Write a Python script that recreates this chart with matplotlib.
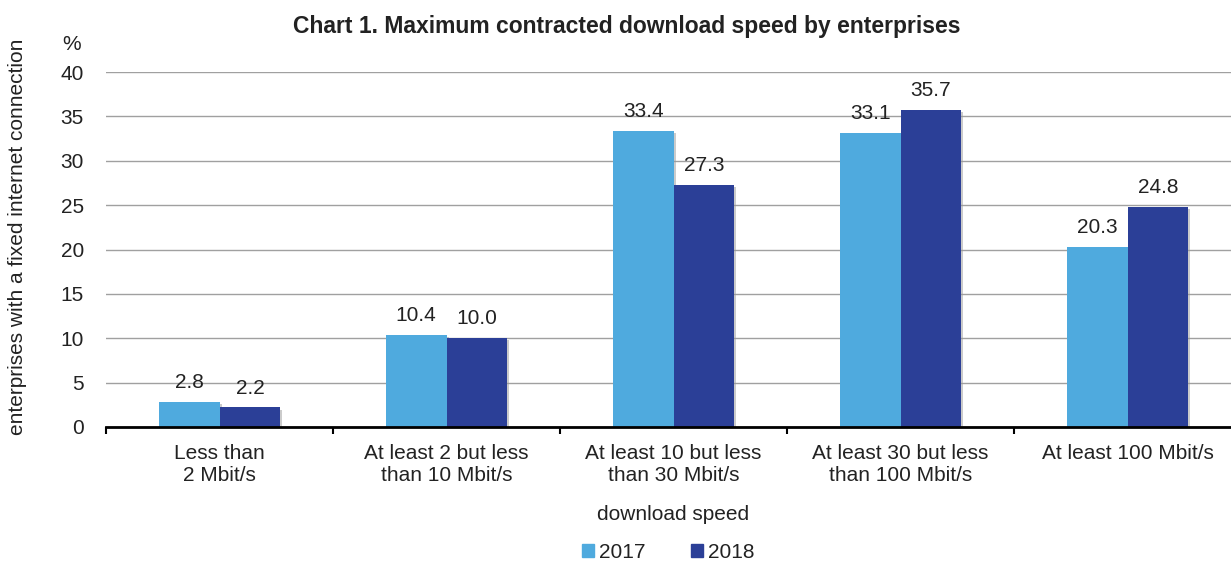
import matplotlib.pyplot as plt
import matplotlib.patheffects as pe
import numpy as np

plt.rcParams['font.family'] = ['Liberation Sans', 'DejaVu Sans']

categories = ['Less than\n2 Mbit/s', 'At least 2 but less\nthan 10 Mbit/s',
              'At least 10 but less\nthan 30 Mbit/s', 'At least 30 but less\nthan 100 Mbit/s',
              'At least 100 Mbit/s']
vals_2017 = [2.8, 10.4, 33.4, 33.1, 20.3]
vals_2018 = [2.2, 10.0, 27.3, 35.7, 24.8]

c17 = '#4faade'
c18 = '#2b3f97'
txt = '#222222'

fig = plt.figure(figsize=(12.31, 5.64), dpi=100)
ax = fig.add_axes([106 / 1231, 1 - 427 / 564, 1135 / 1231, 355 / 564])

x = np.arange(len(categories))
w = 0.268
shadow = [pe.SimplePatchShadow(offset=(1.5, -1.5), shadow_rgbFace='#999999', alpha=0.5), pe.Normal()]
b1 = ax.bar(x - w / 2, vals_2017, w, color=c17, zorder=3, path_effects=shadow)
b2 = ax.bar(x + w / 2, vals_2018, w, color=c18, zorder=3, path_effects=shadow)

for bars, vals in ((b1, vals_2017), (b2, vals_2018)):
    for b, v in zip(bars, vals):
        ax.text(b.get_x() + b.get_width() / 2, v + 1.1, f'{v:.1f}', ha='center', va='bottom',
                fontsize=15, color=txt)

ax.set_xlim(-0.5, len(categories) - 0.5)
ax.set_ylim(0, 40)
ax.set_yticks(range(0, 41, 5))
ax.yaxis.grid(True, color='#a0a0a0', linewidth=1, zorder=0)
ax.set_xticks(np.arange(len(categories) + 1) - 0.5, minor=False)
ax.set_xticklabels([])
ax.set_xticks(x, minor=True)
ax.set_xticklabels(categories, minor=True, fontsize=15, color=txt, linespacing=1.2)
ax.tick_params(axis='x', which='minor', length=0, pad=12)
ax.tick_params(axis='x', which='major', length=5, direction='out', width=1.5, color='black')
ax.tick_params(axis='y', length=0, pad=16, labelsize=15, labelcolor=txt)
for s in ('top', 'right', 'left'):
    ax.spines[s].set_visible(False)
ax.spines['bottom'].set_linewidth(2)
ax.spines['bottom'].set_zorder(4)

ax.set_xlabel('download speed', fontsize=15, color=txt, labelpad=15)
fig.text(18 / 1231, 1 - 237 / 564, 'enterprises with a fixed internet connection', rotation=90,
         ha='center', va='center', fontsize=15, color=txt)
fig.text(72 / 1231, 1 - 45 / 564, '%', ha='center', va='center', fontsize=15, color=txt)
fig.text(627 / 1231, 1 - 26 / 564, 'Chart 1. Maximum contracted download speed by enterprises',
         ha='center', va='center', fontsize=16.5, fontweight='bold', color=txt)

# legend swatches without the bar shadow
h17 = plt.Rectangle((0, 0), 1, 1, color=c17)
h18 = plt.Rectangle((0, 0), 1, 1, color=c18)
fig.legend(handles=[h17, h18], labels=['2017', '2018'], loc='center',
           bbox_to_anchor=(668 / 1231, 1 - 552 / 564), ncol=2,
           frameon=False, fontsize=15, handlelength=0.6, handleheight=0.6, handletextpad=0.2,
           columnspacing=2.2, labelcolor=txt)

fig.savefig('out.png', dpi=100)
